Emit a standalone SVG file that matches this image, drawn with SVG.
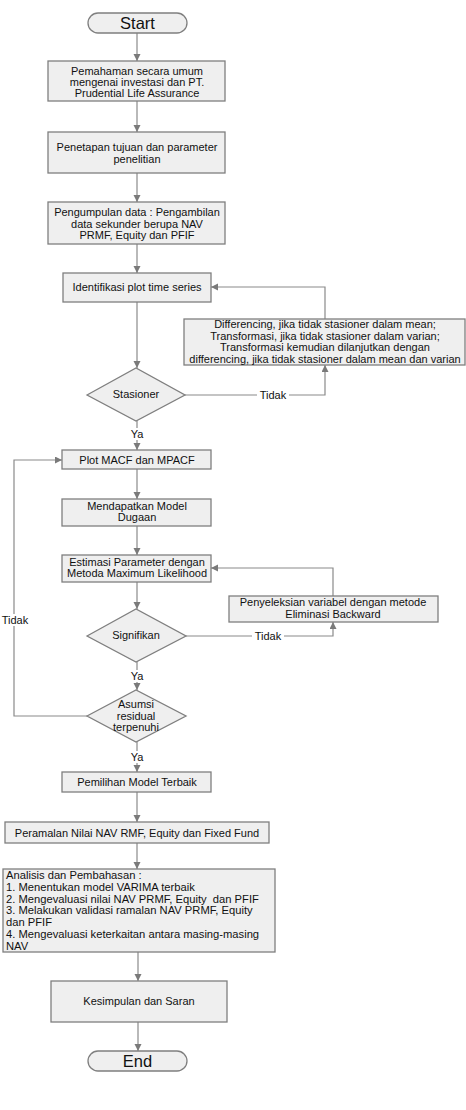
<svg xmlns="http://www.w3.org/2000/svg" width="466" height="1110" viewBox="0 0 466 1110">
<style>
.box{fill:#efefef;stroke:#7f7f7f;stroke-width:1.3}
.t{font-family:"Liberation Sans",Arial,sans-serif;font-size:11px;fill:#111;text-anchor:middle}
.tl{font-family:"Liberation Sans",Arial,sans-serif;font-size:11.2px;fill:#111}
.big{font-family:"Liberation Sans",Arial,sans-serif;font-size:16.5px;fill:#111;text-anchor:middle}
.c{fill:none;stroke:#8a8a8a;stroke-width:1.2}
.lbl{fill:#fff}
</style>
<defs>
<marker id="ah" markerUnits="userSpaceOnUse" markerWidth="8" markerHeight="8" refX="7" refY="3.5" orient="auto">
<path d="M0,0 L7,3.5 L0,7 z" fill="#7a7a7a"/>
</marker>
</defs>
<rect width="466" height="1110" fill="#fff"/>
<g id="connectors">
<path class="c" d="M137,33 V61" marker-end="url(#ah)"/>
<path class="c" d="M137,101 V132" marker-end="url(#ah)"/>
<path class="c" d="M137,173 V202" marker-end="url(#ah)"/>
<path class="c" d="M137,244 V273" marker-end="url(#ah)"/>
<path class="c" d="M137,302 V368" marker-end="url(#ah)"/>
<path class="c" d="M185,395 H325 V365" marker-end="url(#ah)"/>
<path class="c" d="M325,319 V287 H211" marker-end="url(#ah)"/>
<path class="c" d="M137,421 V450" marker-end="url(#ah)"/>
<path class="c" d="M137,469 V499" marker-end="url(#ah)"/>
<path class="c" d="M137,526 V555" marker-end="url(#ah)"/>
<path class="c" d="M137,582 V609" marker-end="url(#ah)"/>
<path class="c" d="M186,636 H333 V622" marker-end="url(#ah)"/>
<path class="c" d="M333,596 V568 H211" marker-end="url(#ah)"/>
<path class="c" d="M137,662 V690" marker-end="url(#ah)"/>
<path class="c" d="M87,716 H14 V460 H62" marker-end="url(#ah)"/>
<path class="c" d="M137,742 V772" marker-end="url(#ah)"/>
<path class="c" d="M137,792 V822" marker-end="url(#ah)"/>
<path class="c" d="M137,843 V869" marker-end="url(#ah)"/>
<path class="c" d="M138,952 V981" marker-end="url(#ah)"/>
<path class="c" d="M138,1022 V1051" marker-end="url(#ah)"/>
<rect class="lbl" x="257" y="389" width="32" height="12"/>
<text class="t" x="273" y="399">Tidak</text>
<rect class="lbl" x="129" y="428" width="16" height="12"/>
<text class="t" x="137" y="438">Ya</text>
<rect class="lbl" x="252" y="630" width="32" height="12"/>
<text class="t" x="268" y="640">Tidak</text>
<rect class="lbl" x="1" y="614" width="28" height="12"/>
<text class="t" x="15" y="624">Tidak</text>
<rect class="lbl" x="129" y="670" width="16" height="12"/>
<text class="t" x="137" y="680">Ya</text>
<rect class="lbl" x="129" y="751" width="16" height="12"/>
<text class="t" x="137" y="761">Ya</text>
</g>
<g id="start"><rect class="box" x="88" y="13" width="99" height="20" rx="10"/><text class="big" x="137.5" y="29">Start</text></g>
<g id="n1"><rect class="box" x="48" y="61" width="177" height="40"/>
<text class="t" x="137" y="75">Pemahaman secara umum</text>
<text class="t" x="137" y="86">mengenai investasi dan PT.</text>
<text class="t" x="137" y="97">Prudential Life Assurance</text></g>
<g id="n2"><rect class="box" x="48" y="132" width="177" height="41"/>
<text class="t" x="137" y="151">Penetapan tujuan dan parameter</text>
<text class="t" x="137" y="162.5">penelitian</text></g>
<g id="n3"><rect class="box" x="48" y="202" width="177" height="42"/>
<text class="t" x="137" y="216">Pengumpulan data : Pengambilan</text>
<text class="t" x="137" y="227.5">data sekunder berupa NAV</text>
<text class="t" x="137" y="239">PRMF, Equity dan PFIF</text></g>
<g id="n4"><rect class="box" x="63" y="273" width="148" height="29"/>
<text class="t" x="137" y="291">Identifikasi plot time series</text></g>
<g id="n5"><rect class="box" x="184" y="319" width="281" height="46"/>
<text class="t" x="325" y="328">Differencing, jika tidak stasioner dalam mean;</text>
<text class="t" x="325" y="339.5">Transformasi, jika tidak stasioner dalam varian;</text>
<text class="t" x="325" y="351">Transformasi kemudian dilanjutkan dengan</text>
<text class="t" x="325" y="362.5">differencing, jika tidak stasioner dalam mean dan varian</text></g>
<g id="d1"><polygon class="box" points="87,395 136,368 185,395 136,421"/>
<text class="t" x="136" y="398">Stasioner</text></g>
<g id="n6"><rect class="box" x="62" y="450" width="149" height="19"/>
<text class="t" x="137" y="463.5">Plot MACF dan MPACF</text></g>
<g id="n7"><rect class="box" x="62" y="499" width="149" height="27"/>
<text class="t" x="137" y="510">Mendapatkan Model</text>
<text class="t" x="137" y="521">Dugaan</text></g>
<g id="n8"><rect class="box" x="62" y="555" width="149" height="27"/>
<text class="t" x="137" y="566">Estimasi Parameter dengan</text>
<text class="t" x="137" y="577">Metoda Maximum Likelihood</text></g>
<g id="n9"><rect class="box" x="229" y="596" width="209" height="26"/>
<text class="t" x="333" y="606">Penyeleksian variabel dengan metode</text>
<text class="t" x="333" y="618">Eliminasi Backward</text></g>
<g id="d2"><polygon class="box" points="87,636 136,609 186,636 136,662"/>
<text class="t" x="136" y="639">Signifikan</text></g>
<g id="d3"><polygon class="box" points="87,716 136,690 186,716 136,742"/>
<text class="t" x="136" y="708">Asumsi</text>
<text class="t" x="136" y="720">residual</text>
<text class="t" x="136" y="731">terpenuhi</text></g>
<g id="n10"><rect class="box" x="62" y="772" width="149" height="20"/>
<text class="t" x="137" y="786">Pemilihan Model Terbaik</text></g>
<g id="n11"><rect class="box" x="5" y="822" width="264" height="21"/>
<text class="t" x="137" y="836.5">Peramalan Nilai NAV RMF, Equity dan Fixed Fund</text></g>
<g id="n12"><rect class="box" x="3" y="869" width="272" height="83"/>
<text class="tl" x="6" y="879">Analisis dan Pembahasan :</text>
<text class="tl" x="6" y="890.8">1. Menentukan model VARIMA terbaik</text>
<text class="tl" x="6" y="902.6">2. Mengevaluasi nilai NAV PRMF, Equity&#160; dan PFIF</text>
<text class="tl" x="6" y="914.4">3. Melakukan validasi ramalan NAV PRMF, Equity</text>
<text class="tl" x="6" y="926.2">dan PFIF</text>
<text class="tl" x="6" y="938">4. Mengevaluasi keterkaitan antara masing-masing</text>
<text class="tl" x="6" y="949.8">NAV</text></g>
<g id="n13"><rect class="box" x="51" y="981" width="176" height="41"/>
<text class="t" x="139" y="1005">Kesimpulan dan Saran</text></g>
<g id="end"><rect class="box" x="88" y="1051" width="99" height="20" rx="10"/><text class="big" x="137.5" y="1067">End</text></g>
</svg>
